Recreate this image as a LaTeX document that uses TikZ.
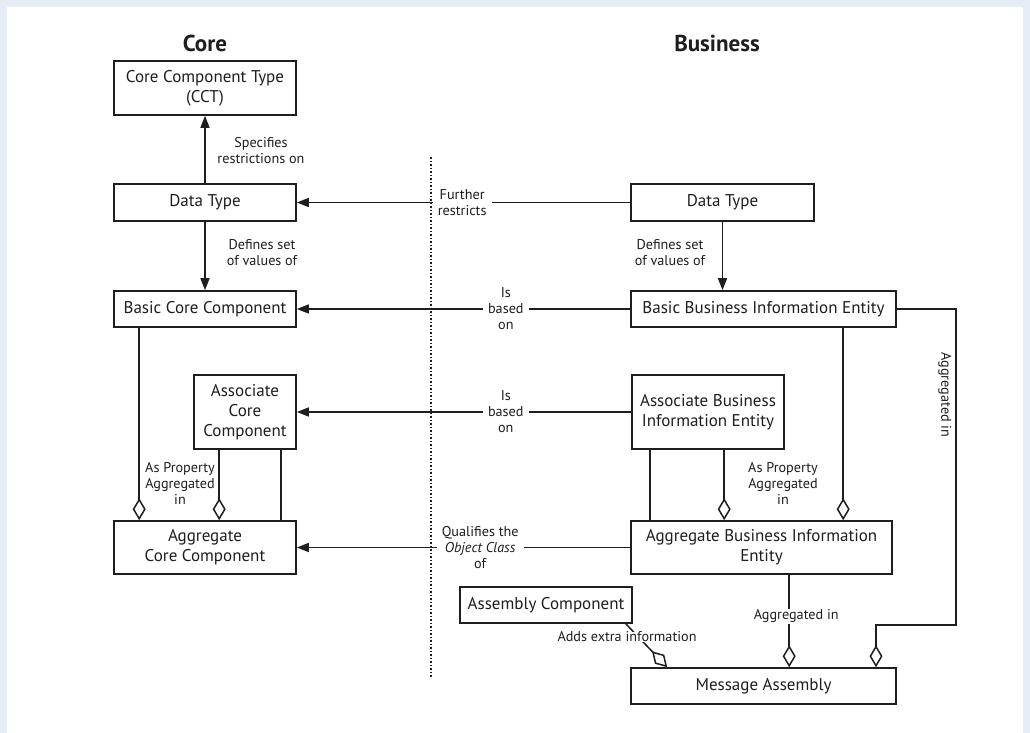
\documentclass[tikz,border=0pt]{standalone}
\usepackage{fontspec}
\setmainfont{PT Sans}
\usetikzlibrary{arrows.meta}
\definecolor{band}{HTML}{E6ECF5}
\definecolor{ink}{HTML}{1E1E1E}

\begin{document}
\begin{tikzpicture}[x=1pt,y=-1pt,
  box/.style={draw=ink, line width=1.6pt, fill=white, align=center, inner sep=0pt,
    font=\fontsize{17}{20}\selectfont, text=ink},
  lbl/.style={align=center, font=\fontsize{14.2}{16}\selectfont, text=ink, inner sep=1pt},
  gap/.style={lbl, fill=white, inner xsep=5pt},
  link/.style={draw=ink, line width=1.5pt},
  tri/.style={link, -{Triangle[length=12pt,width=9pt]}},
  agg/.style={link, -{Diamond[open,length=22pt,width=13pt]}},
  heading/.style={font=\fontsize{23}{26}\selectfont\bfseries, text=ink}]

% frame
\useasboundingbox (0,0) rectangle (1030,733);
\fill[band] (0,0) rectangle (1030,733);
\fill[white] (7,7) rectangle (1023,733);

% column headings
\node[heading] (hcore) at (205,43) {Core};
\node[heading] (hbus) at (717,43) {Business};

% core side
\node[box, minimum width=182pt, minimum height=54pt] (cct) at (205,88) {Core Component Type\\(CCT)};
\node[box, minimum width=182pt, minimum height=37pt] (dtl) at (205,202.5) {Data Type};
\node[box, minimum width=182pt, minimum height=36pt] (bcc) at (205,309) {Basic Core Component};
\node[box, minimum width=102pt, minimum height=74pt] (acc) at (245,412) {Associate\\Core\\Component};
\node[box, minimum width=182pt, minimum height=53pt] (agc) at (205,547.5) {Aggregate\\Core Component};

% business side
\node[box, minimum width=183pt, minimum height=37pt] (dtr) at (722.5,202.5) {Data Type};
\node[box, minimum width=265pt, minimum height=36pt] (bbie) at (763.5,309) {Basic Business Information Entity};
\node[box, minimum width=152pt, minimum height=74pt] (abie) at (708,412) {Associate Business\\Information Entity};
\node[box, minimum width=261pt, minimum height=53pt] (aggbie) at (761.5,547.5) {Aggregate Business Information\\Entity};
\node[box, minimum width=172pt, minimum height=36pt] (asm) at (546,605) {Assembly Component};
\node[box, minimum width=265pt, minimum height=36pt] (msg) at (763.5,686) {Message Assembly};

% core links
\draw[tri] (dtl.north) -- (cct.south);
\node[lbl] (lspec) at (261,151) {Specifies\\restrictions on};
\draw[tri] (dtl.south) -- (bcc.north);
\node[lbl] (ldefl) at (262,253) {Defines set\\of values of};
\draw[agg] ([xshift=26pt]bcc.south west) -- ([xshift=26pt]bcc.south west |- agc.north);
\draw[agg] ([xshift=26pt]acc.south west) -- ([xshift=26pt]acc.south west |- agc.north);
\draw[link] ([xshift=-16pt]acc.south east) -- ([xshift=-16pt]acc.south east |- agc.north);
\node[lbl] (lpropl) at (180,483) {As Property\\Aggregated\\in};

% cross links
\draw[tri] (dtr.west) -- node[gap, pos=0.504] (lfur) {Further\\restricts} (dtl.east);
\draw[tri] (bbie.west) -- node[gap, pos=0.373] (lbase1) {Is\\based\\on} (bcc.east);
\draw[tri] (abie.west) -- node[gap, pos=0.375] (lbase2) {Is\\based\\on} (acc.east);
\draw[tri] (aggbie.west) -- node[gap, pos=0.45] (lqual) {Qualifies the\\\textit{Object Class}\\of} (agc.east);

% business links
\draw[tri] (dtr.south) -- (dtr.south |- bbie.north);
\node[lbl] (ldefr) at (670,253) {Defines set\\of values of};
\draw[link] ([xshift=19pt]abie.south west) -- ([xshift=19pt]abie.south west |- aggbie.north);
\draw[agg] ([xshift=93pt]abie.south west) -- ([xshift=93pt]abie.south west |- aggbie.north);
\draw[agg] ([xshift=213pt]bbie.south west) -- ([xshift=213pt]bbie.south west |- aggbie.north);
\node[lbl] (lpropr) at (783,483) {As Property\\Aggregated\\in};

\coordinate (bendA) at (956,309);
\coordinate (bendB) at (956,625);
\coordinate (bendC) at (876,625);
\draw[agg] (bbie.east) -- (bendA) -- (bendB) -- (bendC) -- (bendC |- msg.north);
\node[lbl, rotate=-90] (laggr) at (945,395) {Aggregated in};

\draw[agg] ([xshift=159pt]aggbie.south west) -- node[gap, pos=0.447, xshift=7pt, inner xsep=2pt] (laggm) {Aggregated in} ([xshift=159pt]aggbie.south west |- msg.north);

\draw[agg] ([xshift=-7pt]asm.south east) -- ([xshift=37pt]msg.north west);
\node[gap, inner xsep=1pt, inner ysep=0pt] (ladds) at (627,637) {Adds extra information};

% separator between the two columns
\coordinate (sepTop) at (431,157);
\coordinate (sepBot) at (431,678);
\draw[ink, line width=1.1pt, dash pattern=on 1.5pt off 2pt] (sepTop) -- (sepBot);
\end{tikzpicture}
\end{document}
